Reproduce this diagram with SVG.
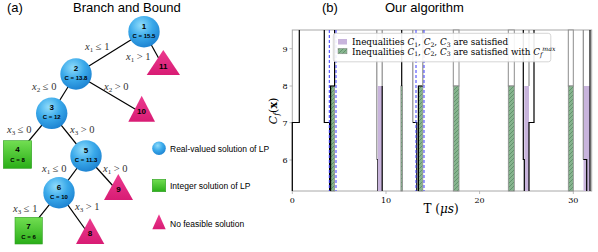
<svg xmlns="http://www.w3.org/2000/svg" width="598" height="252" viewBox="0 0 598 252">
<defs>
<radialGradient id="gBlue" cx="0.4" cy="0.3" r="0.75">
<stop offset="0" stop-color="#8fdcfb"/>
<stop offset="0.5" stop-color="#3aa9ea"/>
<stop offset="1" stop-color="#1a7fcf"/>
</radialGradient>
<linearGradient id="gGreen" x1="0" y1="0" x2="0" y2="1">
<stop offset="0" stop-color="#72de52"/>
<stop offset="1" stop-color="#2aae18"/>
</linearGradient>
<linearGradient id="gPink" x1="0" y1="0" x2="0" y2="1">
<stop offset="0" stop-color="#ec3a8f"/>
<stop offset="1" stop-color="#d81c74"/>
</linearGradient>
<pattern id="hatch" patternUnits="userSpaceOnUse" width="4" height="4">
<rect width="4" height="4" fill="#86b48e"/>
<path d="M0,4 L4,0 M-1,1 L1,-1 M3,5 L5,3" stroke="#5b8a64" stroke-width="0.8"/>
</pattern>
<style>
.ttl{font-family:"Liberation Sans",Arial,sans-serif;font-size:13px;fill:#000}
.num{font-family:"Liberation Sans",Arial,sans-serif;font-size:8px;font-weight:bold;fill:#000;text-anchor:middle}
.cv{font-family:"Liberation Sans",Arial,sans-serif;font-size:6px;font-weight:bold;fill:#000;text-anchor:middle}
.lab{font-family:"Liberation Serif","Times New Roman",serif;font-size:10.5px;fill:#333}
.leg{font-family:"Liberation Sans",Arial,sans-serif;font-size:8.5px;fill:#000}
.edge{stroke:#000;stroke-width:1.2;fill:none}
.circ{fill:url(#gBlue)}
.sq{fill:url(#gGreen);stroke:#2f9f22;stroke-width:0.6}
.tri{fill:url(#gPink)}
.tick{font-family:"DejaVu Serif",serif;font-size:8px;fill:#000}
.blk{stroke:#000;stroke-width:1.2;fill:none}
.gry{stroke:#8c8c8c;stroke-width:1.2;fill:none}
.blu{stroke:#3a3aff;stroke-width:1;stroke-dasharray:3,2;fill:none}
.pur{fill:#c8b4dc}
.grn{fill:url(#hatch);stroke:#8c8c8c;stroke-width:0.8}
.wbar{fill:#fff;stroke:#8c8c8c;stroke-width:1}
.lgt{font-family:"DejaVu Serif",serif;font-size:8.8px;fill:#000}
</style>
</defs>
<rect width="598" height="252" fill="#fff"/>

<!-- panel (a) -->
<text class="ttl" x="7" y="12">(a)</text>
<text class="ttl" x="73" y="12">Branch and Bound</text>

<g id="connectors">
<line class="edge" x1="144" y1="31.7" x2="76" y2="74"/>
<line class="edge" x1="144" y1="31.7" x2="163" y2="66"/>
<line class="edge" x1="76" y1="74" x2="51.7" y2="113.3"/>
<line class="edge" x1="76" y1="74" x2="141.7" y2="113"/>
<line class="edge" x1="51.7" y1="113.3" x2="17.5" y2="154.5"/>
<line class="edge" x1="51.7" y1="113.3" x2="86" y2="156"/>
<line class="edge" x1="86" y1="156" x2="59" y2="192.7"/>
<line class="edge" x1="86" y1="156" x2="118.5" y2="192"/>
<line class="edge" x1="59" y1="192.7" x2="28.6" y2="230.6"/>
<line class="edge" x1="59" y1="192.7" x2="90" y2="236"/>
<text class="lab" x="85" y="50"><tspan font-style="italic">x</tspan><tspan font-size="7" dy="2">1</tspan><tspan dy="-2"> ≤ 1</tspan></text>
<text class="lab" x="126" y="60"><tspan font-style="italic">x</tspan><tspan font-size="7" dy="2">1</tspan><tspan dy="-2"> &gt; 1</tspan></text>
<text class="lab" x="32" y="90"><tspan font-style="italic">x</tspan><tspan font-size="7" dy="2">2</tspan><tspan dy="-2"> ≤ 0</tspan></text>
<text class="lab" x="104" y="90"><tspan font-style="italic">x</tspan><tspan font-size="7" dy="2">2</tspan><tspan dy="-2"> &gt; 0</tspan></text>
<text class="lab" x="7" y="133"><tspan font-style="italic">x</tspan><tspan font-size="7" dy="2">3</tspan><tspan dy="-2"> ≤ 0</tspan></text>
<text class="lab" x="70" y="133"><tspan font-style="italic">x</tspan><tspan font-size="7" dy="2">3</tspan><tspan dy="-2"> &gt; 0</tspan></text>
<text class="lab" x="42" y="172"><tspan font-style="italic">x</tspan><tspan font-size="7" dy="2">1</tspan><tspan dy="-2"> ≤ 0</tspan></text>
<text class="lab" x="103" y="172"><tspan font-style="italic">x</tspan><tspan font-size="7" dy="2">1</tspan><tspan dy="-2"> &gt; 0</tspan></text>
<text class="lab" x="13" y="212"><tspan font-style="italic">x</tspan><tspan font-size="7" dy="2">3</tspan><tspan dy="-2"> ≤ 1</tspan></text>
<text class="lab" x="75" y="210"><tspan font-style="italic">x</tspan><tspan font-size="7" dy="2">3</tspan><tspan dy="-2"> &gt; 1</tspan></text>
</g>

<g id="node1"><circle class="circ" cx="144" cy="31.7" r="15.7"/><text class="num" x="144" y="28.5">1</text><text class="cv" x="144" y="37.5">C = 15.5</text></g>
<g id="node2"><circle class="circ" cx="76" cy="74" r="15.7"/><text class="num" x="76" y="70.5">2</text><text class="cv" x="76" y="79.5">C = 13.8</text></g>
<g id="node3"><circle class="circ" cx="51.7" cy="113.3" r="15.7"/><text class="num" x="51.7" y="110">3</text><text class="cv" x="51.7" y="119">C = 12</text></g>
<g id="node4"><rect class="sq" x="3.3" y="140.7" width="28.4" height="27.6"/><text class="num" x="17.5" y="152">4</text><text class="cv" x="17.5" y="161.5">C = 8</text></g>
<g id="node5"><circle class="circ" cx="86" cy="156" r="15.7"/><text class="num" x="86" y="152.5">5</text><text class="cv" x="86" y="161.5">C = 11.3</text></g>
<g id="node6"><circle class="circ" cx="59" cy="192.7" r="15.7"/><text class="num" x="59" y="189.5">6</text><text class="cv" x="59" y="198.5">C = 10</text></g>
<g id="node7"><rect class="sq" x="15" y="217.3" width="27.3" height="26.7"/><text class="num" x="28.6" y="229">7</text><text class="cv" x="28.6" y="238.5">C = 6</text></g>
<g id="node8"><polygon class="tri" points="90,218.3 76,244 104.3,244"/><text class="num" x="90" y="236">8</text></g>
<g id="node9"><polygon class="tri" points="118.3,174 104,200 133,200"/><text class="num" x="118.5" y="192">9</text></g>
<g id="node10"><polygon class="tri" points="141.7,95.7 128.3,121.7 155,121.7"/><text class="num" x="141.5" y="114">10</text></g>
<g id="node11"><polygon class="tri" points="163.3,50 146.7,75 180,75"/><text class="num" x="163.3" y="68.5">11</text></g>

<g id="legend-a">
<circle class="circ" cx="159" cy="148.3" r="6.8"/>
<text class="leg" x="170" y="151.5">Real-valued solution of LP</text>
<rect class="sq" x="152.3" y="179.3" width="13.4" height="12.4"/>
<text class="leg" x="170" y="188.5">Integer solution of LP</text>
<polygon class="tri" points="159,214.3 152.3,229.3 165.7,229.3"/>
<text class="leg" x="170" y="227">No feasible solution</text>
</g>

<!-- panel (b) -->
<text class="ttl" x="322" y="12">(b)</text>
<text class="ttl" x="385" y="12">Our algorithm</text>

<g id="plot">
<rect x="292.3" y="30" width="299.4" height="161" fill="none" stroke="#a8a8a8" stroke-width="1"/>
<!-- ticks -->
<g stroke="#a8a8a8" stroke-width="0.8">
<line x1="289.5" y1="48.7" x2="292.3" y2="48.7"/>
<line x1="289.5" y1="86" x2="292.3" y2="86"/>
<line x1="289.5" y1="122.7" x2="292.3" y2="122.7"/>
<line x1="289.5" y1="160" x2="292.3" y2="160"/>
<line x1="292.3" y1="191" x2="292.3" y2="194"/>
<line x1="386" y1="191" x2="386" y2="194"/>
<line x1="479.6" y1="191" x2="479.6" y2="194"/>
<line x1="573.3" y1="191" x2="573.3" y2="194"/>
</g>
<text class="tick" x="287.5" y="51.5" text-anchor="end">9</text>
<text class="tick" x="287.5" y="89" text-anchor="end">8</text>
<text class="tick" x="287.5" y="125.7" text-anchor="end">7</text>
<text class="tick" x="287.5" y="163" text-anchor="end">6</text>
<text class="tick" x="292.3" y="203" text-anchor="middle">0</text>
<text class="tick" x="386" y="203" text-anchor="middle">10</text>
<text class="tick" x="479.6" y="203" text-anchor="middle">20</text>
<text class="tick" x="573.3" y="203" text-anchor="middle">30</text>
<text font-family="DejaVu Serif, serif" font-size="12" x="441" y="213" text-anchor="middle">T (<tspan font-style="italic">μs</tspan>)</text>
<text font-family="DejaVu Serif, serif" font-size="11" transform="translate(277,111) rotate(-90)" text-anchor="middle"><tspan font-style="italic">C</tspan><tspan font-style="italic" font-size="8" dy="2">f</tspan><tspan dy="-2">(</tspan><tspan font-weight="bold">x</tspan>)</text>

<!-- A -->
<path class="blk" d="M292.3,191 V122.5 H299.3 V30"/>
<!-- B -->
<path class="blk" d="M324.3,30 V122.5 H329.6 V191"/>
<rect class="grn" x="330.6" y="86" width="4" height="105"/>
<path class="blk" d="M330.6,191 V86 H334.6 V30"/>
<line class="blu" x1="329.3" y1="30" x2="329.3" y2="191"/>
<line class="blu" x1="336" y1="30" x2="336" y2="191"/>
<!-- C -->
<path class="gry" d="M376.8,30 V159.5"/>
<path class="blk" d="M376.8,159.5 H377.8 V191"/>
<rect class="pur" x="377.8" y="86" width="4.4" height="105"/>
<path class="gry" d="M382.2,30 V86"/>
<path class="blk" d="M382.2,86 V191"/>
<!-- D -->
<rect class="grn" x="400.9" y="86" width="1.6" height="105"/>
<path class="blk" d="M401.7,30 V86" stroke-width="1.5"/>
<!-- E -->
<path class="gry" d="M412.8,30 V122.5"/>
<path class="blk" d="M412.8,122.5 H416.8 V191"/>
<rect class="grn" x="418.4" y="86" width="4.4" height="105"/>
<path class="blk" d="M418.4,191 V86 H422.8"/>
<path class="gry" d="M422.8,30 V86"/>
<line class="blu" x1="416" y1="30" x2="416" y2="191"/>
<line class="blu" x1="424" y1="30" x2="424" y2="191"/>
<!-- F -->
<rect class="wbar" x="453.3" y="30" width="5.7" height="56"/>
<rect class="grn" x="453.3" y="86" width="5.7" height="105"/>
<!-- G -->
<rect class="wbar" x="508.3" y="30" width="6" height="56"/>
<rect class="grn" x="508.3" y="86" width="6" height="105"/>
<!-- H -->
<rect class="pur" x="524.3" y="86" width="4.7" height="105"/>
<path class="blk" d="M523.3,30 V159.5 H524.3 V191"/>
<path class="gry" d="M529,30 V86"/>
<path class="blk" d="M529,191 V122.5 H534 V30"/>
<!-- I -->
<rect class="wbar" x="568.3" y="30" width="5" height="56"/>
<rect class="grn" x="568.3" y="86" width="5" height="105"/>
<!-- J -->
<rect class="pur" x="583.5" y="86" width="6.5" height="105"/>
<path class="gry" d="M583.3,30 V159.5"/>
<path class="blk" d="M583.3,159.5 H586.7 V191"/>
<path class="blk" d="M590,30 V191"/>

<!-- legend -->
<rect x="333.3" y="33.3" width="217.5" height="28.5" rx="2.5" fill="#fff" fill-opacity="0.9" stroke="#cccccc" stroke-width="0.8"/>
<rect x="338" y="39" width="9" height="5.5" fill="#c8b4dc"/>
<text class="lgt" x="352" y="45">Inequalities <tspan font-style="italic">C</tspan><tspan font-size="6.2" dy="1.5">1</tspan><tspan dy="-1.5">, </tspan><tspan font-style="italic">C</tspan><tspan font-size="6.2" dy="1.5">2</tspan><tspan dy="-1.5">, </tspan><tspan font-style="italic">C</tspan><tspan font-size="6.2" dy="1.5">3</tspan><tspan dy="-1.5"> are satisfied</tspan></text>
<rect x="338" y="48.3" width="9" height="5.5" fill="url(#hatch)" stroke="#8c8c8c" stroke-width="0.5"/>
<text class="lgt" x="352" y="54.5">Inequalities <tspan font-style="italic">C</tspan><tspan font-size="6.2" dy="1.5">1</tspan><tspan dy="-1.5">, </tspan><tspan font-style="italic">C</tspan><tspan font-size="6.2" dy="1.5">2</tspan><tspan dy="-1.5">, </tspan><tspan font-style="italic">C</tspan><tspan font-size="6.2" dy="1.5">3</tspan><tspan dy="-1.5"> are satisfied with </tspan><tspan font-style="italic">C</tspan><tspan font-style="italic" font-size="6.2" dy="2">f</tspan><tspan font-style="italic" font-size="6.2" dy="-5.5">max</tspan></text>
</g>
</svg>
